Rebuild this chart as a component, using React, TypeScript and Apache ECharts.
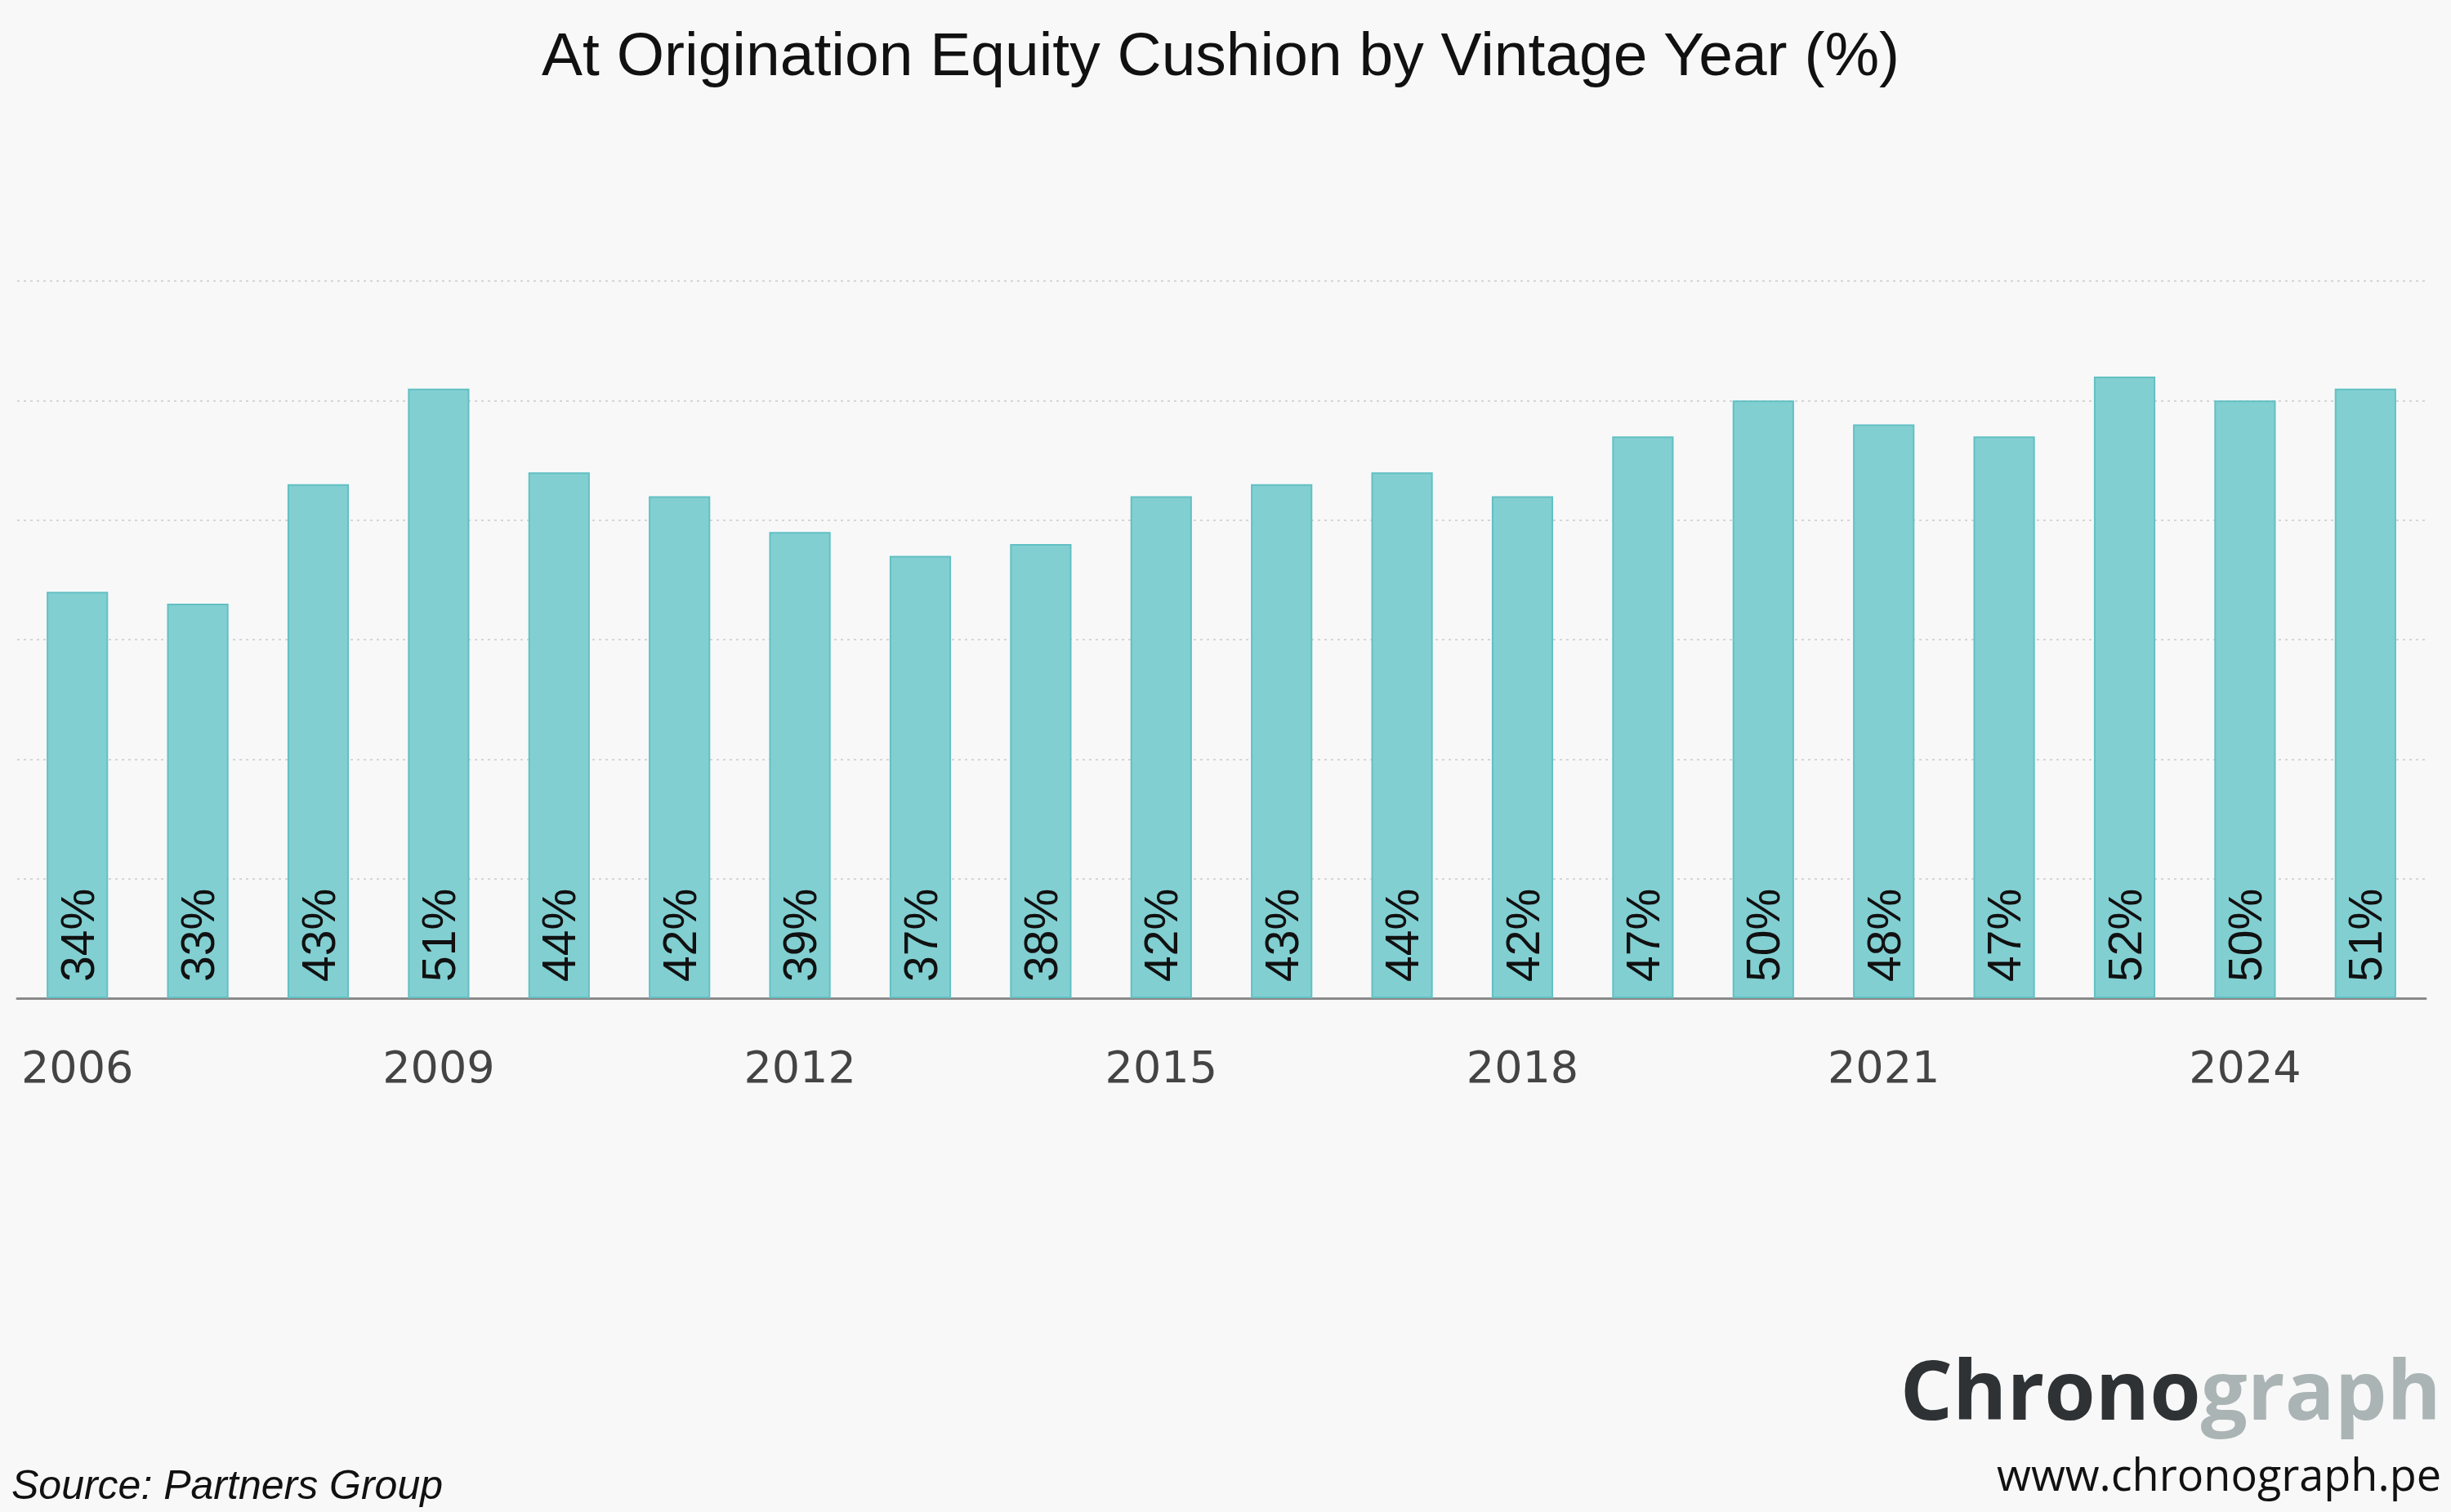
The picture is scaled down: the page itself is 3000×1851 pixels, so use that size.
import { useEffect, useRef } from 'react'
import * as echarts from 'echarts'

const years = [
  '2006', '2007', '2008', '2009', '2010', '2011', '2012', '2013', '2014', '2015',
  '2016', '2017', '2018', '2019', '2020', '2021', '2022', '2023', '2024', '2025',
]
const cushion = [34, 33, 43, 51, 44, 42, 39, 37, 38, 42, 43, 44, 42, 47, 50, 48, 47, 52, 50, 51]
const title = 'At Origination Equity Cushion by Vintage Year (%)'
const source = 'Source: Partners Group'
const brandDark = 'Chrono'
const brandLight = 'graph'
const site = 'www.chronograph.pe'

export default function App() {
  const ref = useRef<HTMLDivElement | null>(null)

  useEffect(() => {
    if (!ref.current) return
    document.body.style.margin = '0'
    const chart = echarts.init(ref.current, undefined, { renderer: 'svg' })
    chart.setOption(buildOption())
    return () => chart.dispose()
  }, [])

  return <div ref={ref} style={{ width: 3000, height: 1851, background: '#f8f8f8' }} />
}

function buildOption() {
  return {
    animation: false,
    backgroundColor: '#f8f8f8',
    grid: { left: 21, right: 31, top: 344, bottom: 629 },
    xAxis: {
      type: 'category',
      data: years,
      axisLine: { lineStyle: { color: '#8a8a8a', width: 3 } },
      axisTick: { show: false },
      axisLabel: {
        interval: 2,
        margin: 57,
        color: '#444444',
        fontFamily: 'DejaVu Sans',
        fontSize: 54,
      },
    },
    yAxis: {
      type: 'value',
      min: 0,
      max: 60,
      interval: 10,
      axisLabel: { show: false },
      axisLine: { show: false },
      axisTick: { show: false },
      splitLine: { lineStyle: { color: '#d6d6d6', width: 2, type: [3, 5] } },
    },
    series: [
      {
        type: 'bar',
        data: cushion,
        barWidth: '51%',
        itemStyle: { color: '#82cfd2', borderColor: '#62c0c3', borderWidth: 2 },
        label: {
          show: true,
          position: 'insideBottom',
          rotate: 90,
          align: 'left',
          verticalAlign: 'middle',
          distance: 20,
          formatter: '{c}%',
          color: '#111111',
          fontFamily: 'Liberation Sans',
          fontSize: 57,
        },
      },
    ],
    graphic: [
      {
        type: 'text',
        x: 1494,
        y: 66,
        style: {
          text: title,
          fill: '#111111',
          font: '75px "Liberation Sans"',
          align: 'center',
          verticalAlign: 'middle',
        },
      },
      {
        type: 'text',
        x: 14,
        y: 1818,
        style: {
          text: source,
          fill: '#111111',
          font: 'italic 50px "Liberation Sans"',
          align: 'left',
          verticalAlign: 'middle',
        },
      },
      {
        type: 'text',
        x: 2988,
        y: 1699,
        style: {
          text: `{a|${brandDark}}{b|${brandLight}}`,
          align: 'right',
          verticalAlign: 'middle',
          rich: {
            a: { fill: '#2f3234', fontFamily: 'Open Sans', fontWeight: 'bold', fontSize: 101 },
            b: { fill: '#abb4b4', fontFamily: 'Open Sans', fontWeight: 'bold', fontSize: 101 },
          },
        },
      },
      {
        type: 'text',
        x: 2988,
        y: 1804,
        style: {
          text: site,
          fill: '#111111',
          font: '54px "Open Sans"',
          align: 'right',
          verticalAlign: 'middle',
        },
      },
    ],
  }
}
